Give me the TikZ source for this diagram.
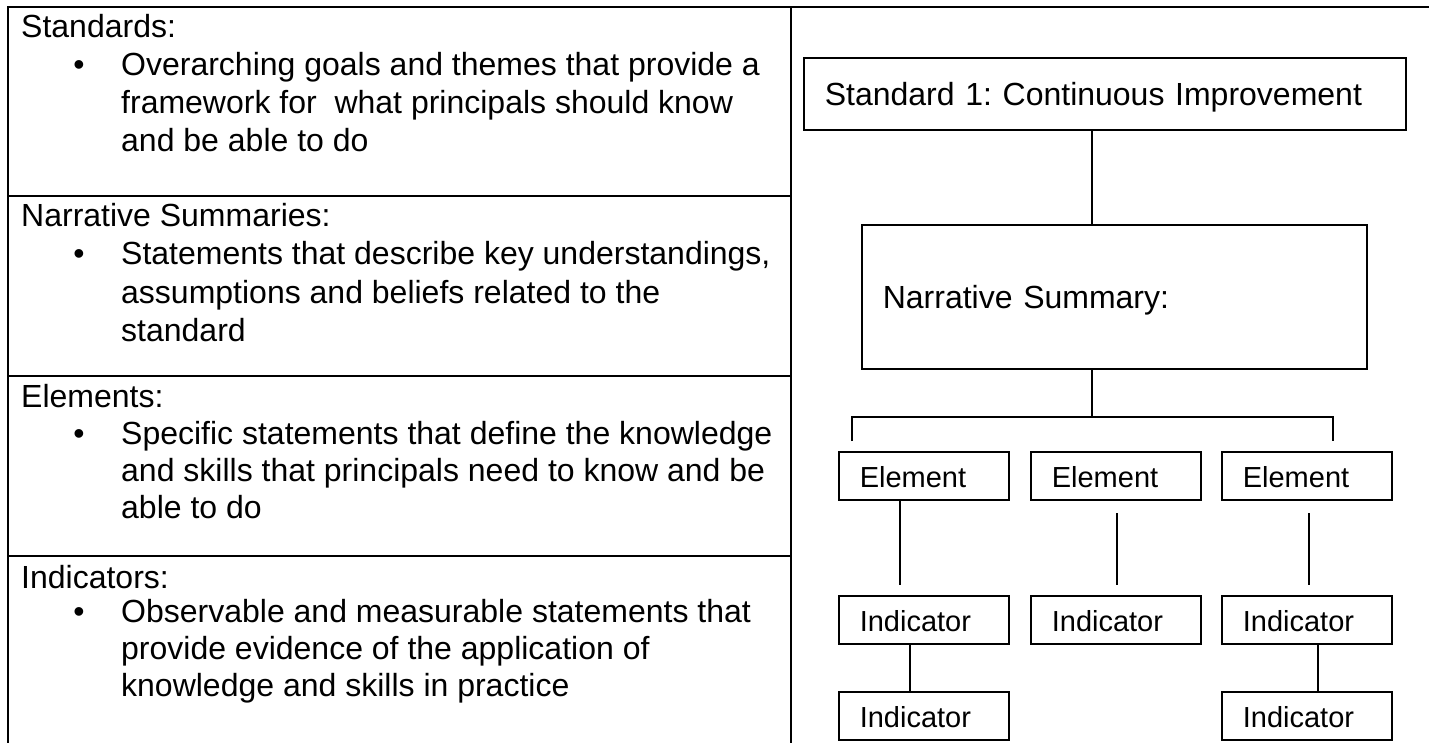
\documentclass[tikz,border=0pt]{standalone}
\usepackage{fontspec}
\setmainfont{Liberation Sans}
\frenchspacing
\begin{document}
\begin{tikzpicture}[x=1pt,y=-1pt,
  rule/.style={line width=1.7pt},
  lbl/.style={anchor=base west,inner sep=0pt,font=\fontsize{32}{38}\selectfont},
  bul/.style={anchor=base,inner sep=0pt,font=\fontsize{32}{38}\selectfont},
  tbox/.style={draw,line width=1.6pt,anchor=north west,align=left,inner xsep=21pt,inner ysep=0pt,
    text height=24pt,text depth=0pt,font=\fontsize{32}{38}\selectfont},
  sbox/.style={tbox,font=\fontsize{29}{34}\selectfont,text width=128pt,minimum height=48pt},
  conn/.style={line width=1.6pt}]
\useasboundingbox (0,0) rectangle (1429,743);
% table frame
\draw[rule] (8,743) -- (8,7) -- (1429,7);
\draw[rule] (791,7) -- (791,743);
\draw[rule] (8,196) -- (791,196);
\draw[rule] (8,376) -- (791,376);
\draw[rule] (8,556) -- (791,556);
% row 1
\node[lbl] (h1) at (21,38) {Standards:};
\node[bul] (b1) at (79,76) {•};
\node[lbl] (t1a) at (121,76) {Overarching goals and themes that provide a};
\node[lbl] (t1b) at (121,114) {framework for\ \ what principals should know};
\node[lbl] (t1c) at (121,152) {and be able to do};
% row 2
\node[lbl] (h2) at (21,227) {Narrative Summaries:};
\node[bul] (b2) at (79,265) {•};
\node[lbl] (t2a) at (121,265) {Statements that describe key understandings,};
\node[lbl] (t2b) at (121,303) {assumptions and beliefs related to the};
\node[lbl] (t2c) at (121,341) {standard};
% row 3
\node[lbl] (h3) at (21,407) {Elements:};
\node[bul] (b3) at (79,444) {•};
\node[lbl] (t3a) at (121,444) {Specific statements that define the knowledge};
\node[lbl] (t3b) at (121,481) {and skills that principals need to know and be};
\node[lbl] (t3c) at (121,518) {able to do};
% row 4
\node[lbl] (h4) at (21,588) {Indicators:};
\node[bul] (b4) at (79,622) {•};
\node[lbl] (t4a) at (121,622) {Observable and measurable statements that};
\node[lbl] (t4b) at (121,659) {provide evidence of the application of};
\node[lbl] (t4c) at (121,696) {knowledge and skills in practice};
% tree
\node[tbox,text width=560pt,minimum height=72pt] (s1) at (803,57) {Standard 1: Continuous Improvement};
\node[tbox,text width=463pt,minimum height=144pt] (ns) at (861,224) {Narrative Summary:};
\node[sbox] (e1) at (838,451) {Element};
\node[sbox] (e2) at (1030,451) {Element};
\node[sbox] (e3) at (1221,451) {Element};
\node[sbox] (i1) at (838,595) {Indicator};
\node[sbox] (i2) at (1030,595) {Indicator};
\node[sbox] (i3) at (1221,595) {Indicator};
\node[sbox] (i4) at (838,691) {Indicator};
\node[sbox] (i6) at (1221,691) {Indicator};
\coordinate (trunk) at (1092,417);
\coordinate (bl) at (852,441);
\coordinate (br) at (1333,441);
\draw[conn] (trunk |- s1.south) -- (trunk |- ns.north);
\draw[conn] (trunk |- ns.south) -- (trunk);
\draw[conn] (bl) -- (bl |- trunk) -- (br |- trunk) -- (br);
\coordinate (l1) at (900,585);
\coordinate (m0) at (1117,513);
\coordinate (m1) at (1117,585);
\coordinate (r0) at (1309,513);
\coordinate (r1) at (1309,585);
\draw[conn] (l1 |- e1.south) -- (l1);
\draw[conn] (m0) -- (m1);
\draw[conn] (r0) -- (r1);
\coordinate (ll) at (910,650);
\coordinate (rr) at (1318,650);
\draw[conn] (ll |- i1.south) -- (ll |- i4.north);
\draw[conn] (rr |- i3.south) -- (rr |- i6.north);
\end{tikzpicture}
\end{document}
